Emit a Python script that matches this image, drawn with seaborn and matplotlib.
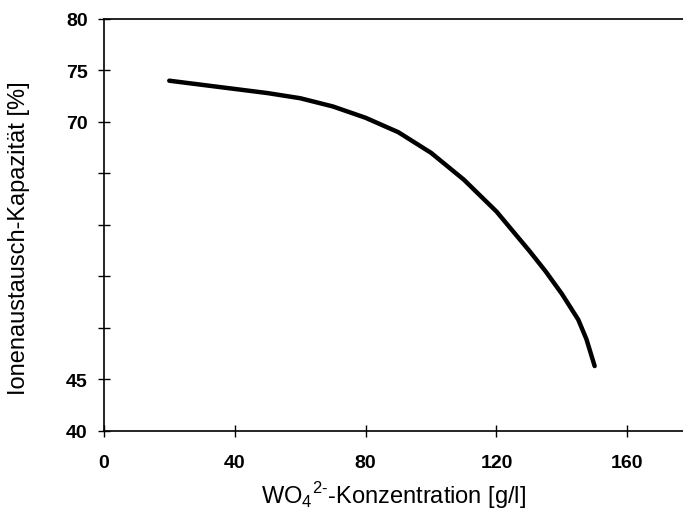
import numpy as np
import pandas as pd
import matplotlib
matplotlib.use("Agg")
import matplotlib.pyplot as plt
import seaborn as sns

sns.set_style("white")
plt.rcParams["font.family"] = ["Liberation Sans", "DejaVu Sans"]
plt.rcParams["mathtext.fontset"] = "custom"
plt.rcParams["mathtext.rm"] = "Liberation Sans"

# values
konz = [20, 30, 40, 50, 60, 70, 80, 90, 100, 110, 120, 130, 135, 140, 145, 147.5, 150]
kapaz = [74.0, 73.6, 73.2, 72.8, 72.3, 71.5, 70.4, 69.0, 67.0, 64.4, 61.3, 57.5, 55.5, 53.3, 50.8, 48.9, 46.3]
x_ticks = [0, 40, 80, 120, 160]
y_ticks = [40, 45, 50, 55, 60, 65, 70, 75, 80]
y_labels = ["40", "45", "", "", "", "", "70", "75", "80"]

dt = pd.DataFrame({"konz": konz, "kapaz": kapaz})

fig = plt.figure(figsize=(6.83, 5.10), dpi=100)
ax = fig.add_axes([0.152, 0.153, 0.848, 0.808])
sns.lineplot(data=dt, x="konz", y="kapaz", color="black", linewidth=3.2, ax=ax)

ax.set_xlim(0, 177)
ax.set_ylim(40, 80)
ax.set_xticks(x_ticks)
ax.set_yticks(y_ticks)
ax.set_yticklabels(y_labels)
for lab in ax.get_xticklabels() + ax.get_yticklabels():
    lab.set_fontweight("bold")
    lab.set_fontsize(14)
    lab.set_color("black")
ax.tick_params(bottom=True, left=True, direction="inout", length=9, width=1,
               color="black", labelcolor="black")
ax.tick_params(axis="x", pad=12)
ax.tick_params(axis="y", pad=7)

ax.spines["right"].set_visible(False)
for s in ["left", "bottom", "top"]:
    ax.spines[s].set_color("black")
    ax.spines[s].set_linewidth(1.2)

ax.set_xlabel(r"WO$_4$$^{2\text{-}}$-Konzentration [g/l]", fontsize=17, labelpad=6, color="black")
ax.set_ylabel("Ionenaustausch-Kapazität [%]", fontsize=17, labelpad=26, color="black")
ax.yaxis.label.set_y(0.47)

fig.savefig("out.png", dpi=100)
